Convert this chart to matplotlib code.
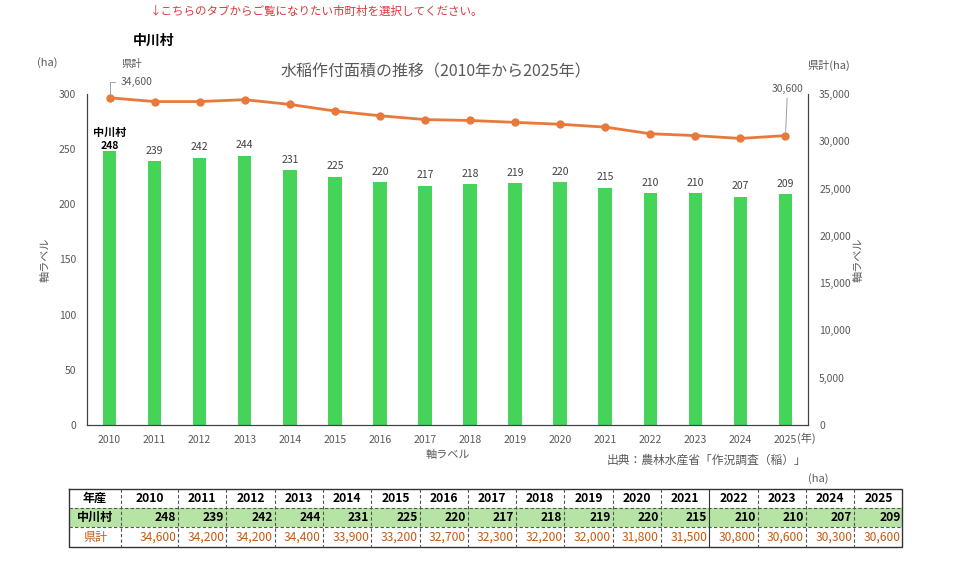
import matplotlib.pyplot as plt
from matplotlib.patches import Rectangle

plt.rcParams["font.family"] = ["Noto Sans CJK JP", "DejaVu Sans"]

# データ
years = ["2010", "2011", "2012", "2013", "2014", "2015", "2016", "2017",
         "2018", "2019", "2020", "2021", "2022", "2023", "2024", "2025"]
village = [248, 239, 242, 244, 231, 225, 220, 217, 218, 219, 220, 215, 210, 210, 207, 209]
prefecture = [34600, 34200, 34200, 34400, 33900, 33200, 32700, 32300,
              32200, 32000, 31800, 31500, 30800, 30600, 30300, 30600]
village_name = "中川村"
pref_name = "県計"

GRAY = "#595959"
GREEN = "#45d35a"
ORANGE = "#e8793a"
TABLE_GREEN = "#b7e4a4"
TABLE_ORANGE = "#c55a11"

fig = plt.figure(figsize=(9.6, 5.68), dpi=100)

ax = fig.add_axes([87 / 960, 1 - 425 / 568, 721 / 960, 331 / 568])
ax2 = ax.twinx()

x = [i + 0.5 for i in range(len(years))]
ax.bar(x, village, width=0.3, color=GREEN, zorder=2)
ax.set_xlim(0, len(years))
ax.set_ylim(0, 300)
ax.set_yticks(range(0, 301, 50))
ax.set_xticks(x)
ax.set_xticklabels(years)
ax.tick_params(axis="both", length=0, labelsize=7.5, colors=GRAY, pad=7)
ax.tick_params(axis="y", pad=8)
for s in ["top"]:
    ax.spines[s].set_visible(False)
    ax2.spines[s].set_visible(False)
for s in ["left", "right", "bottom"]:
    ax.spines[s].set_color("#404040")
    ax2.spines[s].set_color("#404040")

# 棒のラベル
for i, v in enumerate(village):
    if i == 0:
        ax.text(x[i], v + 0.5, str(v), ha="center", va="bottom", fontsize=7.5,
                fontweight="bold", color="black")
    else:
        ax.text(x[i], v + 5, str(v), ha="center", va="bottom", fontsize=7.5, color="#404040")
ax.text(x[0], village[0] + 11, village_name, ha="center", va="bottom", fontsize=8,
        fontweight="bold", color="black")

# 県計の折れ線
ax2.plot(x, prefecture, color=ORANGE, lw=2, marker="o", ms=5, zorder=3)
ax2.set_ylim(0, 35000)
ax2.set_yticks(range(0, 35001, 5000))
ax2.set_yticklabels([f"{t:,}" for t in range(0, 35001, 5000)])
ax2.tick_params(axis="y", length=0, labelsize=7.5, colors=GRAY, pad=8)

ax2.annotate(f"{prefecture[0]:,}", xy=(x[0], prefecture[0]), xytext=(19.5, 8),
             textcoords="offset points", ha="center", va="bottom", fontsize=7.5, color=GRAY,
             arrowprops=dict(arrowstyle="-", color="#a0a0a0", lw=0.7,
                             connectionstyle="angle,angleA=0,angleB=90,rad=0",
                             shrinkA=2, shrinkB=3))
ax2.annotate(pref_name, xy=(x[0], prefecture[0]), xytext=(8.5, 21),
             textcoords="offset points", ha="left", va="bottom", fontsize=7.5, color=GRAY)
ax2.annotate(f"{prefecture[-1]:,}", xy=(x[-1], prefecture[-1]), xytext=(1.5, 30),
             textcoords="offset points", ha="center", va="bottom", fontsize=7.5, color=GRAY,
             arrowprops=dict(arrowstyle="-", color="#a0a0a0", lw=0.7, shrinkA=1, shrinkB=3))

ax.set_ylabel("軸ラベル", fontsize=8, color=GRAY, labelpad=6)
ax2.set_ylabel("軸ラベル", fontsize=8, color=GRAY, rotation=90, labelpad=2)
ax.set_xlabel("軸ラベル", fontsize=8, color=GRAY, labelpad=4)

# 図の周りの文字
fig.text(150 / 960, 1 - 11 / 568, "↓こちらのタブからご覧になりたい市町村を選択してください。",
         fontsize=8.3, color="#d9383a", ha="left", va="center")
fig.text(133 / 960, 1 - 41 / 568, village_name, fontsize=10, fontweight="bold", ha="left", va="center")
fig.text(37 / 960, 1 - 63 / 568, "(ha)", fontsize=8, color=GRAY, ha="left", va="center")
fig.text(436 / 960, 1 - 72 / 568, "水稲作付面積の推移（2010年から2025年）", fontsize=11.5,
         color=GRAY, ha="center", va="center")
fig.text(807 / 960, 1 - 65 / 568, "県計(ha)", fontsize=8, color=GRAY, ha="left", va="center")
fig.text(797 / 960, 1 - 438 / 568, "(年)", fontsize=8, color=GRAY, ha="left", va="center")
fig.text(806 / 960, 1 - 460 / 568, "出典：農林水産省「作況調査（稲）」", fontsize=8.5,
         color=GRAY, ha="right", va="center")
fig.text(808 / 960, 1 - 479 / 568, "(ha)", fontsize=8, color=GRAY, ha="left", va="center")

# 表
axt = fig.add_axes([0, 0, 1, 1], zorder=5)
axt.set_xlim(0, 960)
axt.set_ylim(568, 0)
axt.axis("off")

col_w = [52, 57] + [48.3] * 15
edges = [69]
for w in col_w:
    edges.append(edges[-1] + w)
row_y = [489, 508, 527, 547]

axt.add_patch(Rectangle((edges[0], row_y[1]), edges[-1] - edges[0], row_y[2] - row_y[1],
                        facecolor=TABLE_GREEN, edgecolor="none"))

header = ["年産"] + years
row1 = [village_name] + [str(v) for v in village]
row2 = [pref_name] + [f"{v:,}" for v in prefecture]
for c in range(len(header)):
    xc = (edges[c] + edges[c + 1]) / 2
    axt.text(xc, (row_y[0] + row_y[1]) / 2, header[c], ha="center", va="center",
             fontsize=8.7, fontweight="bold", color="black")
    if c == 0:
        axt.text(xc, (row_y[1] + row_y[2]) / 2, row1[c], ha="center", va="center",
                 fontsize=8.7, fontweight="bold", color="black")
        axt.text(xc, (row_y[2] + row_y[3]) / 2, row2[c], ha="center", va="center",
                 fontsize=8.7, color=TABLE_ORANGE)
    else:
        axt.text(edges[c + 1] - 2, (row_y[1] + row_y[2]) / 2, row1[c], ha="right",
                 va="center", fontsize=8.7, fontweight="bold", color="black")
        axt.text(edges[c + 1] - 2, (row_y[2] + row_y[3]) / 2, row2[c], ha="right",
                 va="center", fontsize=8.7, color=TABLE_ORANGE)

# 罫線
axt.plot([edges[0], edges[-1], edges[-1], edges[0], edges[0]],
         [row_y[0], row_y[0], row_y[-1], row_y[-1], row_y[0]], color="#333333", lw=1)
for yy in row_y[1:-1]:
    axt.plot([edges[0], edges[-1]], [yy, yy], color="#555555", lw=0.8, ls=(0, (3, 2)))
for i, xx in enumerate(edges[1:-1], start=1):
    if i == 13:
        axt.plot([xx, xx], [row_y[0], row_y[-1]], color="#333333", lw=0.8)
    else:
        axt.plot([xx, xx], [row_y[0], row_y[-1]], color="#555555", lw=0.8, ls=(0, (3, 2)))

fig.savefig("out.png", dpi=100)
